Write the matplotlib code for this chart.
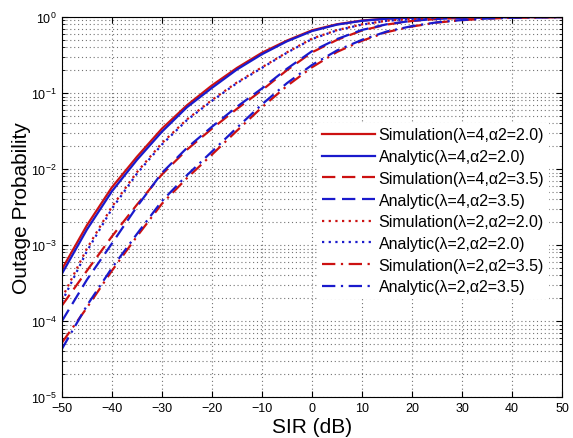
import matplotlib
matplotlib.use('Agg')
import matplotlib.pyplot as plt
from matplotlib.ticker import LogLocator, NullFormatter

plt.rcParams['font.family'] = ['Liberation Sans', 'DejaVu Sans']
plt.rcParams['mathtext.default'] = 'regular'

# SIR axis (dB)
sir = [-50, -45, -40, -35, -30, -25, -20, -15, -10, -5, 0,
       5, 10, 15, 20, 25, 30, 35, 40, 45, 50]

# outage probability, lambda=4, alpha2=2.0
sim_l4_a20 = [4.8e-4, 1.82e-3, 5.75e-3, 1.45e-2, 3.4e-2, 6.9e-2, 0.126, 0.214, 0.339, 0.49, 0.668,
              0.803, 0.898, 0.955, 0.982, 0.993, 0.997, 0.999, 0.9995, 0.9998, 1.0]
ana_l4_a20 = [4.2e-4, 1.6e-3, 5.1e-3, 1.32e-2, 3.1e-2, 6.5e-2, 0.117, 0.204, 0.324, 0.479, 0.653,
              0.794, 0.891, 0.95, 0.979, 0.992, 0.997, 0.9989, 0.9995, 0.9998, 0.9999]

# lambda=4, alpha2=3.5
sim_l4_a35 = [1.6e-4, 4.6e-4, 1.3e-3, 3.4e-3, 8.5e-3, 1.8e-2, 3.4e-2, 6.2e-2, 0.109, 0.2, 0.343,
              0.5, 0.665, 0.797, 0.887, 0.941, 0.972, 0.988, 0.995, 0.998, 1.0]
ana_l4_a35 = [1.0e-4, 3.5e-4, 1.05e-3, 3.2e-3, 8.9e-3, 1.9e-2, 3.6e-2, 6.6e-2, 0.115, 0.209, 0.355,
              0.513, 0.676, 0.804, 0.891, 0.944, 0.973, 0.989, 0.995, 0.998, 0.999]

# lambda=2, alpha2=2.0
sim_l2_a20 = [2.0e-4, 9.0e-4, 3.2e-3, 9.1e-3, 2.2e-2, 4.5e-2, 8.1e-2, 0.138, 0.218, 0.343, 0.52,
              0.672, 0.8, 0.893, 0.946, 0.976, 0.989, 0.995, 0.998, 0.999, 1.0]
ana_l2_a20 = [1.8e-4, 8.3e-4, 3.0e-3, 8.7e-3, 2.1e-2, 4.4e-2, 7.9e-2, 0.135, 0.214, 0.339, 0.513,
              0.668, 0.794, 0.891, 0.944, 0.975, 0.989, 0.995, 0.998, 0.999, 0.9995]

# lambda=2, alpha2=3.5
sim_l2_a35 = [5.2e-5, 1.5e-4, 4.6e-4, 1.3e-3, 3.5e-3, 7.6e-3, 1.55e-2, 3.2e-2, 6.5e-2, 0.124, 0.218,
              0.347, 0.487, 0.634, 0.75, 0.845, 0.908, 0.952, 0.976, 0.988, 1.0]
ana_l2_a35 = [4.3e-5, 1.6e-4, 5.0e-4, 1.4e-3, 3.8e-3, 8.3e-3, 1.7e-2, 3.5e-2, 7.1e-2, 0.135, 0.234,
              0.363, 0.501, 0.646, 0.759, 0.851, 0.912, 0.955, 0.977, 0.989, 0.995]

RED = '#cc1111'
BLUE = '#1a1acc'
DASH = (0, (6, 3))
DOT = (0, (1, 2))
DASHDOT = (0, (6, 2.5, 1, 2.5))

fig = plt.figure(figsize=(5.73, 4.39), dpi=100)
ax = fig.add_axes([0.108, 0.093, 0.873, 0.866])

lw = 1.6
ax.plot(sir, sim_l4_a20, color=RED, ls='-', lw=lw, label='Simulation(λ=4,α2=2.0)')
ax.plot(sir, ana_l4_a20, color=BLUE, ls='-', lw=lw, label='Analytic(λ=4,α2=2.0)')
ax.plot(sir, sim_l4_a35, color=RED, ls=DASH, lw=lw, label='Simulation(λ=4,α2=3.5)')
ax.plot(sir, ana_l4_a35, color=BLUE, ls=DASH, lw=lw, label='Analytic(λ=4,α2=3.5)')
ax.plot(sir, sim_l2_a20, color=RED, ls=DOT, lw=lw, label='Simulation(λ=2,α2=2.0)')
ax.plot(sir, ana_l2_a20, color=BLUE, ls=DOT, lw=lw, label='Analytic(λ=2,α2=2.0)')
ax.plot(sir, sim_l2_a35, color=RED, ls=DASHDOT, lw=lw, label='Simulation(λ=2,α2=3.5)')
ax.plot(sir, ana_l2_a35, color=BLUE, ls=DASHDOT, lw=lw, label='Analytic(λ=2,α2=3.5)')

ax.set_yscale('log')
ax.set_xlim(-50, 50)
ax.set_ylim(1e-5, 1)
ax.set_xticks(range(-50, 51, 10))
ax.yaxis.set_major_locator(LogLocator(base=10, numticks=10))
ax.yaxis.set_minor_locator(LogLocator(base=10, subs=range(2, 10), numticks=20))
ax.yaxis.set_minor_formatter(NullFormatter())

ax.grid(True, which='major', ls=(0, (1, 2.5)), color='0.45', lw=0.8)
ax.grid(True, which='minor', axis='y', ls=(0, (1, 2.5)), color='0.45', lw=0.8)
ax.tick_params(which='both', direction='in', top=True, right=True, labelsize=9)
ax.tick_params(which='major', length=4)
ax.tick_params(which='minor', length=2)

ax.set_xlabel('SIR (dB)', fontsize=15, labelpad=2)
ax.set_ylabel('Outage Probability', fontsize=15, labelpad=0)

leg = ax.legend(loc='upper left', bbox_to_anchor=(0.51, 0.722), fontsize=11.5,
                frameon=True, fancybox=False, framealpha=1, edgecolor='none',
                handlelength=3.3, handletextpad=0.25, labelspacing=0.42,
                borderpad=0.3, borderaxespad=0)

fig.savefig('out.png', dpi=100)
